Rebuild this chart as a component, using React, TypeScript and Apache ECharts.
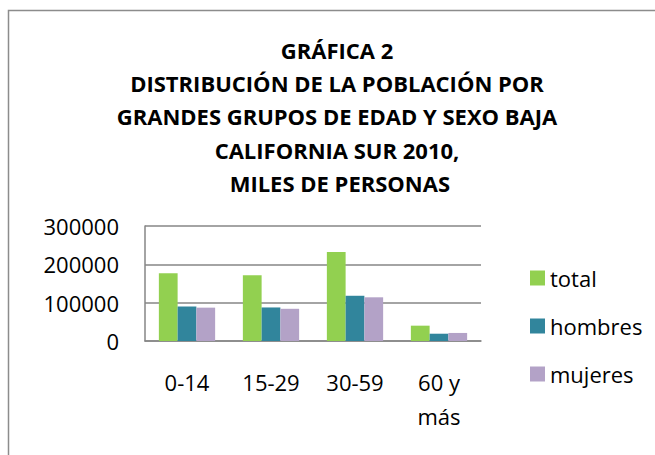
import React, { useEffect, useRef } from "react";
import * as echarts from "echarts";

const categories = ["0-14", "15-29", "30-59", "60 y\nmás"];
const totalValues = [177000, 171500, 232000, 40000];
const hombresValues = [90000, 87500, 118000, 19000];
const mujeresValues = [87000, 84000, 114000, 21000];
const seriesNames = ["total", "hombres", "mujeres"];
const yTicks = [0, 100000, 200000, 300000];
const titleLines = [
  "GRÁFICA 2",
  "DISTRIBUCIÓN DE LA POBLACIÓN POR",
  "GRANDES GRUPOS DE EDAD Y SEXO BAJA",
  "CALIFORNIA SUR 2010,",
  " MILES DE PERSONAS",
];

const FONT = "'Open Sans', 'Noto Sans', sans-serif";

export default function App() {
  const ref = useRef<HTMLDivElement>(null);
  useEffect(() => {
    if (!ref.current) return;
    const chart = echarts.init(ref.current, undefined, { renderer: "svg" });
    chart.setOption({
      animation: false,
      backgroundColor: "#ffffff",
      textStyle: { fontFamily: FONT },
      title: {
        text: titleLines.join("\n"),
        left: 332,
        top: 28,
        textAlign: "center",
        textStyle: {
          fontFamily: FONT,
          fontWeight: "bold",
          fontSize: 22,
          lineHeight: 33.3,
          color: "#000000",
        },
      },
      graphic: [
        {
          type: "rect",
          shape: { x: 8.5, y: 10.5, width: 700, height: 500 },
          style: { fill: "none", stroke: "#8c8c8c", lineWidth: 1.5 },
          silent: true,
          z: -1,
        },
      ],
      legend: {
        orient: "vertical",
        left: 525,
        top: 261,
        itemWidth: 15,
        itemHeight: 15,
        itemGap: 24,
        icon: "rect",
        data: seriesNames,
        textStyle: {
          fontFamily: FONT,
          fontSize: 22,
          lineHeight: 24,
          color: "#000000",
        },
      },
      grid: { left: 145, right: 174, top: 226, bottom: 114 },
      xAxis: {
        type: "category",
        data: categories,
        axisLine: { lineStyle: { color: "#868686", width: 1.5 } },
        axisTick: { show: false },
        axisLabel: {
          fontFamily: FONT,
          fontSize: 22,
          lineHeight: 34,
          color: "#000000",
          margin: 24,
          interval: 0,
        },
      },
      yAxis: {
        type: "value",
        min: yTicks[0],
        max: yTicks[yTicks.length - 1],
        interval: yTicks[1] - yTicks[0],
        axisLine: { show: true, lineStyle: { color: "#868686", width: 1.5 } },
        axisTick: { show: false },
        splitLine: { lineStyle: { color: "#868686", width: 1.5 } },
        axisLabel: {
          fontFamily: FONT,
          fontSize: 22,
          color: "#000000",
          margin: 26,
          formatter: (v: number) => String(v),
        },
      },
      series: [
        {
          name: seriesNames[0],
          type: "bar",
          data: totalValues,
          itemStyle: { color: "#92D050" },
          barGap: "0%",
          barCategoryGap: "33%",
        },
        {
          name: seriesNames[1],
          type: "bar",
          data: hombresValues,
          itemStyle: { color: "#31859C" },
          barGap: "0%",
          barCategoryGap: "33%",
        },
        {
          name: seriesNames[2],
          type: "bar",
          data: mujeresValues,
          itemStyle: { color: "#B3A2C7" },
          barGap: "0%",
          barCategoryGap: "33%",
        },
      ],
    });
    return () => chart.dispose();
  }, []);
  return (
    <div
      ref={ref}
      style={{ position: "fixed", left: 0, top: 0, width: 655, height: 455 }}
    />
  );
}
